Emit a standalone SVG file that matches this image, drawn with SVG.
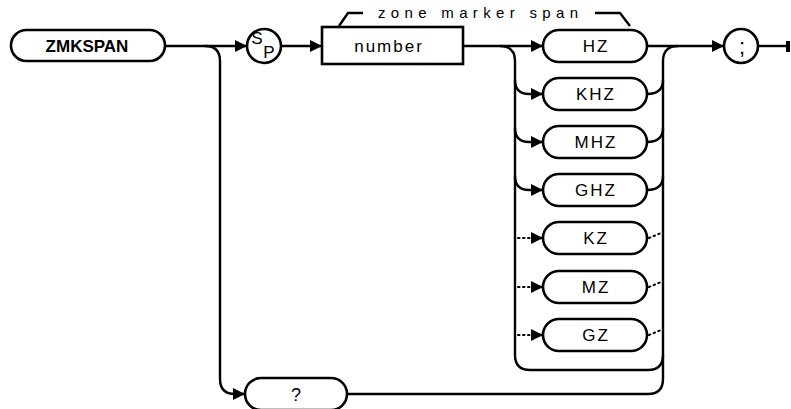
<svg xmlns="http://www.w3.org/2000/svg" width="791" height="409" viewBox="0 0 791 409">
<defs>
<marker id="arr" markerUnits="userSpaceOnUse" markerWidth="13" markerHeight="12" refX="12" refY="6" orient="auto">
<path d="M0,0 L12,6 L0,12 z" fill="#000"/>
</marker>
<style>
.ln{fill:none;stroke:#000;stroke-width:2.4}
.dot{fill:none;stroke:#000;stroke-width:2;stroke-dasharray:1.5 3.5;stroke-linecap:round}
.pill{fill:#fff;stroke:#000;stroke-width:2.6}
.t{font-family:"Liberation Sans",Arial,sans-serif;font-size:17px;fill:#000;text-anchor:middle;letter-spacing:2px}
.b{font-weight:bold;font-size:17px;letter-spacing:0}
</style>
</defs>
<rect width="791" height="409" fill="#fff"/>
<g id="connectors">
<path class="ln" d="M165,46 H247" marker-end="url(#arr)"/>
<path class="ln" d="M281,46 H322" marker-end="url(#arr)"/>
<path class="ln" d="M463,46 H543" marker-end="url(#arr)"/>
<path class="ln" d="M647,46 H724" marker-end="url(#arr)"/>
<path class="ln" d="M758,46 H786"/>
<rect x="786" y="41" width="4" height="11" fill="#000"/>
<path class="ln" d="M500,46 Q515,46 515,61 V355 Q515,370 530,370 H648 Q663,370 663,355"/>
<path class="ln" d="M515,80 Q515,94 529,94 H543" marker-end="url(#arr)"/>
<path class="ln" d="M515,128 Q515,142 529,142 H543" marker-end="url(#arr)"/>
<path class="ln" d="M515,176 Q515,190 529,190 H543" marker-end="url(#arr)"/>
<path class="dot" d="M518,238 H530"/>
<path class="ln" d="M531,238 H543" marker-end="url(#arr)"/>
<path class="dot" d="M518,287 H530"/>
<path class="ln" d="M531,287 H543" marker-end="url(#arr)"/>
<path class="dot" d="M518,335 H530"/>
<path class="ln" d="M531,335 H543" marker-end="url(#arr)"/>
<path class="ln" d="M647,94 Q663,94 663,80"/>
<path class="ln" d="M647,142 Q663,142 663,128"/>
<path class="ln" d="M647,190 Q663,190 663,176"/>
<path class="dot" d="M649,238 L661,233"/>
<path class="dot" d="M649,287 L661,282"/>
<path class="dot" d="M649,335 L661,330"/>
<path class="ln" d="M347,394 H648 Q663,394 663,379 V61 Q663,46 678,46"/>
<path class="ln" d="M205,46 Q220,46 220,61 V379 Q220,394 235,394 H245" marker-end="url(#arr)"/>
<path class="ln" d="M339,26 L348,13 H363 M595,13 H620 L630,26"/>
</g>
<g id="zmkspan"><rect class="pill" x="11" y="30" width="154" height="31" rx="15.5"/><text class="t b" x="87" y="52">ZMKSPAN</text></g>
<g id="sp"><circle class="pill" cx="264" cy="46" r="17"/><text class="t" x="257" y="44" style="font-size:17px;letter-spacing:0">S</text><text class="t" x="269" y="58" style="font-size:17px;letter-spacing:0">P</text></g>
<g id="number"><rect class="pill" x="322" y="27" width="141" height="37"/><text class="t" x="389" y="52">number</text></g>
<g id="zone-label"><text class="t" x="479" y="18" style="font-size:15px" textLength="202" lengthAdjust="spacing">zone marker span</text></g>
<g id="hz"><rect class="pill" x="543" y="30" width="104" height="32" rx="16"/><text class="t" x="596" y="52">HZ</text></g>
<g id="khz"><rect class="pill" x="543" y="78" width="104" height="32" rx="16"/><text class="t" x="596" y="100">KHZ</text></g>
<g id="mhz"><rect class="pill" x="543" y="126" width="104" height="32" rx="16"/><text class="t" x="596" y="148">MHZ</text></g>
<g id="ghz"><rect class="pill" x="543" y="174" width="104" height="32" rx="16"/><text class="t" x="596" y="196">GHZ</text></g>
<g id="kz"><rect class="pill" x="543" y="222" width="104" height="32" rx="16"/><text class="t" x="596" y="244">KZ</text></g>
<g id="mz"><rect class="pill" x="543" y="271" width="104" height="32" rx="16"/><text class="t" x="596" y="293">MZ</text></g>
<g id="gz"><rect class="pill" x="543" y="319" width="104" height="32" rx="16"/><text class="t" x="596" y="341">GZ</text></g>
<g id="semicolon"><circle class="pill" cx="741" cy="46" r="17"/><text class="t" x="742" y="54" style="font-size:22px;letter-spacing:0">;</text></g>
<g id="query"><rect class="pill" x="245" y="378" width="102" height="32" rx="16"/><text class="t" x="297" y="401" style="font-size:18px">?</text></g>
</svg>
